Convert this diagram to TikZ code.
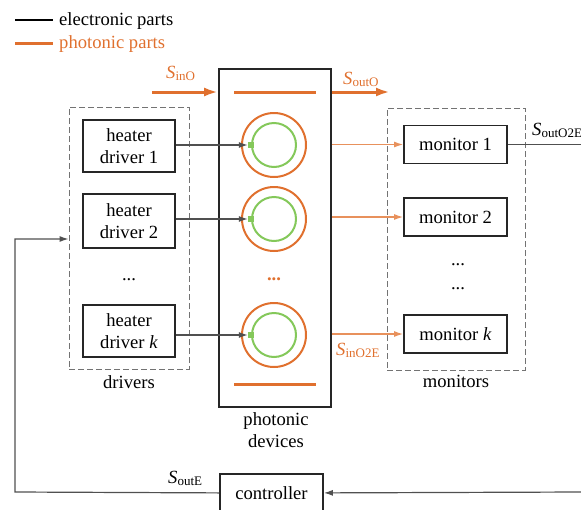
\documentclass[tikz,border=0pt]{standalone}
\usepackage{fontspec}
\setmainfont{Liberation Serif}
\usetikzlibrary{arrows.meta}
\definecolor{ora}{HTML}{E0702E}
\definecolor{lora}{HTML}{E8915C}
\definecolor{grn}{HTML}{84C85A}
\definecolor{ln}{HTML}{505050}
\newcommand{\sig}[1]{\textit{S}\textsubscript{#1}}
\begin{document}
\begin{tikzpicture}[x=1pt,y=-1pt, font=\fontsize{18.6}{22}\selectfont,
 box/.style={draw=black!85, line width=1.8pt, align=center, inner sep=0pt},
 dbox/.style={draw=gray!90!black, dash pattern=on 6pt off 3pt, line width=0.9pt, inner sep=0pt},
 eline/.style={draw=ln, line width=1.2pt},
 earrow/.style={eline, -{Latex[length=9pt,width=6pt]}},
 oarrow/.style={draw=lora, line width=1.2pt, -{Latex[length=9pt,width=6pt]}},
 othick/.style={draw=ora, line width=3pt},
 othickarrow/.style={othick, -{Latex[length=14pt,width=9pt]}},
 ring/.style={draw=ora, line width=2pt, circle, minimum size=64pt, inner sep=0pt},
 iring/.style={draw=grn, line width=2pt, circle, minimum size=44pt, inner sep=0pt},
 gsq/.style={fill=grn, minimum size=6pt, inner sep=0pt},
 lab/.style={inner sep=0pt}]
\useasboundingbox (0,0) rectangle (581,509);
\clip (0,0) rectangle (581,509);
% legend
\coordinate (l1a) at (15,20); \coordinate (l1b) at (53,20);
\coordinate (l2a) at (15,43); \coordinate (l2b) at (53,43);
\draw[line width=1.5pt] (l1a) -- (l1b);
\draw[othick] (l2a) -- (l2b);
\node[lab, anchor=base west] (lt1) at (59,25) {electronic parts};
\node[lab, anchor=base west, text=ora] (lt2) at (59,48) {photonic parts};
% photonic devices
\node[box, minimum width=112pt, minimum height=338pt] (pd) at (275,238) {};
\coordinate (t1) at (234,92); \coordinate (t2) at (316,92);
\coordinate (b1) at (234,384); \coordinate (b2) at (316,384);
\draw[othick] (t1) -- (t2);
\draw[othick] (b1) -- (b2);
\coordinate (sin) at (152,92); \coordinate (sout) at (390,92);
\draw[othickarrow] (sin) -- (pd.west |- t1);
\draw[othickarrow] (pd.east |- t1) -- (sout);
\node[lab, anchor=base west, text=ora] (sinl) at (166,78) {\sig{inO}};
\node[lab, anchor=base west, text=ora] (soutl) at (343,84) {\sig{outO}};
\node[lab, anchor=base, align=center] (pdl) at (276,425) {photonic};
\node[lab, anchor=base, align=center] (pdl2) at (276,447) {devices};
% rings
\foreach \n/\y in {1/145,2/219,k/335}{
  \node[ring] (r\n) at (274,\y) {};
  \node[iring] (i\n) at (274,\y) {};
  \node[gsq] (g\n) at (i\n.west) {};
}
\node[lab, anchor=base, text=ora] (pdots) at (274,280) {\textbf{...}};
% drivers
\node[dbox, minimum width=120pt, minimum height=262pt] (drv) at (129,238) {};
\node[box, minimum width=92pt, minimum height=52pt] (d1) at (129,146) {heater\\driver 1};
\node[box, minimum width=92pt, minimum height=54pt] (d2) at (129,221) {heater\\driver 2};
\node[box, minimum width=92pt, minimum height=52pt] (dk) at (129,331) {heater\\driver \textit{k}};
\node[lab, anchor=base] (ddots) at (129,280) {...};
\node[lab, anchor=base] (drvl) at (129,388) {drivers};
\draw[earrow] (d1.east |- g1) -- (g1.west);
\draw[earrow] (d2.east |- g2) -- (g2.west);
\draw[earrow] (dk.east |- gk) -- (gk.west);
% monitors
\node[dbox, minimum width=138pt, minimum height=262pt] (mon) at (456,239) {};
\node[box, minimum width=103pt, minimum height=38pt] (m1) at (455.5,144.5) {monitor 1};
\node[box, minimum width=103pt, minimum height=38pt] (m2) at (455.5,217) {monitor 2};
\node[box, minimum width=103pt, minimum height=38pt] (mk) at (455.5,334) {monitor \textit{k}};
\node[lab, anchor=base] (mdots1) at (458,265) {...};
\node[lab, anchor=base] (mdots2) at (458,289) {...};
\node[lab, anchor=base] (monl) at (456,387) {monitors};
\draw[oarrow] (pd.east |- m1.west) -- (m1.west);
\draw[oarrow] (pd.east |- m2.west) -- (m2.west);
\draw[oarrow] (pd.east |- mk.west) -- (mk.west);
\node[lab, anchor=base west, text=ora] (sino2e) at (336,355) {\sig{inO2E}};
\coordinate (o2e) at (581,144.5);
\draw[eline] (m1.east) -- (o2e);
\node[lab, anchor=base west] (souto2e) at (532,135) {\sig{outO2E}};
% controller
\node[box, anchor=north, minimum width=103pt, minimum height=38pt] (ctl) at (271.5,473) {controller};
\coordinate (c1) at (15,492); \coordinate (c2) at (15,239); \coordinate (c3) at (581,492);
\draw[earrow] (ctl.west) -- (c1) -- (c2) -- (drv.west |- c2);
\draw[earrow] (c3) -- (ctl.east);
\node[lab, anchor=base west] (soute) at (168,483) {\sig{outE}};
\end{tikzpicture}
\end{document}
